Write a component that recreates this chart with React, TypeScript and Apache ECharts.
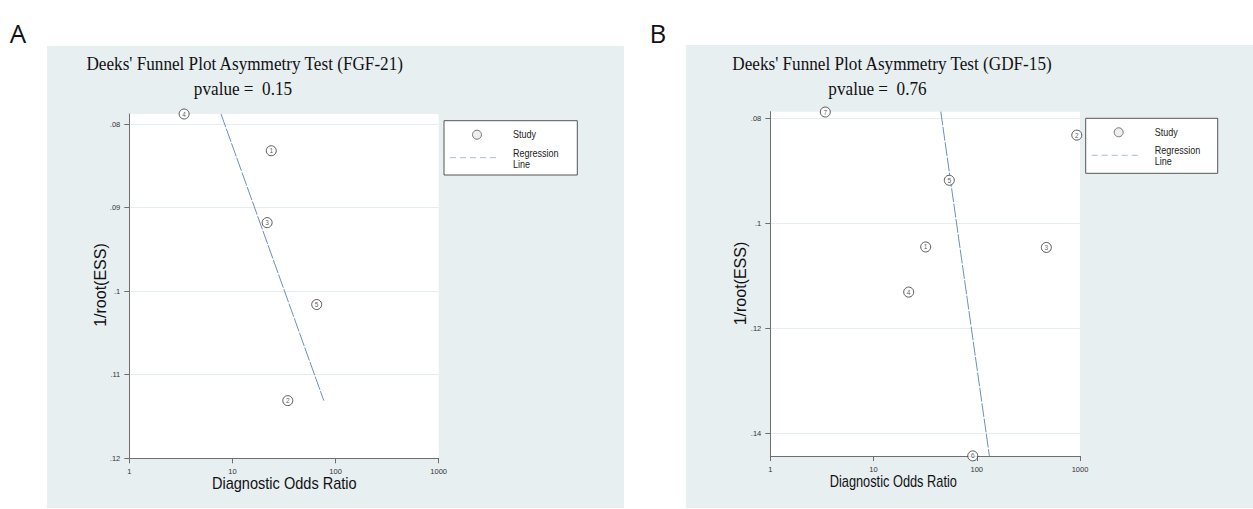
import React, { useEffect, useRef } from "react";
import * as echarts from "echarts";

// Panel A (FGF-21)
const studiesA = ["1", "2", "3", "4", "5"];
const dorA = [23.8, 34.4, 21.7, 3.4, 65.6];
const invEssA = [0.0832, 0.1131, 0.0918, 0.0788, 0.1016];
const regXA = [7.75, 76.9];
const regYA = [0.0788, 0.1131];
const yTicksA = [0.08, 0.09, 0.1, 0.11, 0.12];

// Panel B (GDF-15)
const studiesB = ["1", "2", "3", "4", "5", "6", "7"];
const dorB = [32.0, 931, 472, 21.9, 54.2, 91.4, 3.41];
const invEssB = [0.1045, 0.0832, 0.1046, 0.1131, 0.0918, 0.1443, 0.0788];
const regXB = [44.8, 132.5];
const regYB = [0.0787, 0.1443];
const yTicksB = [0.08, 0.1, 0.12, 0.14];

const titleA = "Deeks' Funnel Plot Asymmetry Test (FGF-21)";
const titleB = "Deeks' Funnel Plot Asymmetry Test (GDF-15)";
const pA = "pvalue =  0.15";
const pB = "pvalue =  0.76";

const BG = "#e8eff1";
const LINE = "#6f8fb8";

function yFmt(v: number) {
  return String(+v.toFixed(4)).replace(/^0/, "");
}

function makeXAxis(gridIndex: number) {
  return {
    type: "log",
    logBase: 10,
    gridIndex,
    min: 1,
    max: 1000,
    axisLine: { show: true, lineStyle: { color: "#6e6e6e", width: 1 } },
    axisTick: { show: true, length: 5, lineStyle: { color: "#6e6e6e" } },
    minorTick: { show: false },
    splitLine: { show: false },
    axisLabel: {
      fontSize: 7.5,
      color: "#333",
      margin: 9,
      fontFamily: "Liberation Sans",
      formatter: (v: number) => String(Math.round(v)),
    },
  };
}

function makeYAxis(gridIndex: number, min: number, max: number, ticks: number[]) {
  return {
    type: "value",
    gridIndex,
    inverse: true,
    min,
    max,
    axisLine: { show: true, onZero: false, lineStyle: { color: "#6e6e6e", width: 1 } },
    axisTick: { show: true, length: 5, customValues: ticks, lineStyle: { color: "#6e6e6e" } },
    axisLabel: {
      fontSize: 7.5,
      color: "#333",
      margin: 9,
      customValues: ticks,
      formatter: (v: number) => yFmt(v),
      fontFamily: "Liberation Sans",
    },
    splitLine: { show: true, lineStyle: { color: "#e4eef0", width: 1 } },
  };
}

function legend(x: number, y: number, w: number, h: number) {
  const ts = { fontSize: 11, fill: "#222", fontFamily: "Liberation Sans", textVerticalAlign: "middle" };
  return {
    type: "group",
    x,
    y,
    children: [
      { type: "rect", shape: { x: 0, y: 0, width: w, height: h }, style: { fill: "#fff", stroke: "#555", lineWidth: 1 } },
      { type: "circle", shape: { cx: 33, cy: 14, r: 4.5 }, style: { fill: "#eeeeee", stroke: "#555", lineWidth: 0.8 } },
      { type: "line", shape: { x1: 6, y1: 37, x2: 56, y2: 37 }, style: { stroke: "#a9bfd8", lineWidth: 1, lineDash: [6, 4] } },
      { type: "text", x: 69, y: 13.5, scaleX: 0.82, style: { ...ts, text: "Study" } },
      { type: "text", x: 69, y: 32, scaleX: 0.82, style: { ...ts, text: "Regression" } },
      { type: "text", x: 69, y: 43, scaleX: 0.82, style: { ...ts, text: "Line" } },
    ],
  };
}

function txt(x: number, y: number, text: string, fontSize: number, family: string, scaleX = 1, rotation = 0) {
  return {
    type: "text",
    x,
    y,
    scaleX,
    rotation,
    style: {
      text,
      fontSize,
      fontFamily: family,
      fill: "#111",
      textAlign: "center",
      textVerticalAlign: "middle",
    },
  };
}

export default function App() {
  const ref = useRef<HTMLDivElement>(null);
  useEffect(() => {
    if (!ref.current) return;
    const chart = echarts.init(ref.current, null, { renderer: "svg" });
    const scatterLabel = {
      show: true,
      position: "inside",
      fontSize: 6.5,
      color: "#333",
      fontFamily: "Liberation Sans",
      formatter: (p: any) => p.name,
    };
    const marker = { color: "#fff", borderColor: "#333", borderWidth: 1 };
    const option: any = {
      animation: false,
      backgroundColor: "#fff",
      grid: [
        { left: 129.3, top: 114, width: 309.4, height: 344.3, show: true, backgroundColor: "#fff", borderWidth: 0 },
        { left: 770.3, top: 111.7, width: 309.7, height: 344.3, show: true, backgroundColor: "#fff", borderWidth: 0 },
      ],
      xAxis: [makeXAxis(0), makeXAxis(1)],
      yAxis: [makeYAxis(0, 0.0788, 0.12, yTicksA), makeYAxis(1, 0.07874, 0.14432, yTicksB)],
      graphic: [
        { type: "rect", z: -100, shape: { x: 47, y: 46, width: 577, height: 462 }, style: { fill: BG } },
        { type: "rect", z: -100, shape: { x: 686, y: 45, width: 567, height: 463 }, style: { fill: BG } },
        txt(18, 33, "A", 26, "Open Sans"),
        txt(658, 33, "B", 26, "Open Sans"),
        txt(244.7, 64, titleA, 19.5, "Liberation Serif", 0.88),
        txt(243, 89, pA, 19.5, "Liberation Serif", 0.88),
        txt(892, 64, titleB, 19.5, "Liberation Serif", 0.88),
        txt(877.5, 89, pB, 19.5, "Liberation Serif", 0.88),
        txt(284.3, 483.3, "Diagnostic Odds Ratio", 16, "Liberation Sans", 0.91),
        txt(893.3, 481.5, "Diagnostic Odds Ratio", 16, "Liberation Sans", 0.8),
        txt(100, 285, "1/root(ESS)", 16, "Liberation Sans", 1, Math.PI / 2),
        txt(740, 283.5, "1/root(ESS)", 16, "Liberation Sans", 1, Math.PI / 2),
        legend(444, 120.7, 133.3, 54.3),
        legend(1085.7, 118.3, 132, 55),
      ],
      series: [
        {
          type: "line",
          xAxisIndex: 0,
          yAxisIndex: 0,
          data: regXA.map((x, i) => [x, regYA[i]]),
          symbol: "none",
          lineStyle: { color: LINE, width: 1, type: [14, 1.5] },
          z: 2,
        },
        {
          type: "scatter",
          xAxisIndex: 0,
          yAxisIndex: 0,
          clip: false,
          symbol: "circle",
          symbolSize: 10,
          itemStyle: marker,
          label: scatterLabel,
          data: studiesA.map((s, i) => ({ name: s, value: [dorA[i], invEssA[i]] })),
          z: 3,
        },
        {
          type: "line",
          xAxisIndex: 1,
          yAxisIndex: 1,
          data: regXB.map((x, i) => [x, regYB[i]]),
          symbol: "none",
          lineStyle: { color: LINE, width: 1, type: [14, 1.5] },
          z: 2,
        },
        {
          type: "scatter",
          xAxisIndex: 1,
          yAxisIndex: 1,
          clip: false,
          symbol: "circle",
          symbolSize: 10,
          itemStyle: marker,
          label: scatterLabel,
          data: studiesB.map((s, i) => ({ name: s, value: [dorB[i], invEssB[i]] })),
          z: 3,
        },
      ],
    };
    chart.setOption(option);
    return () => chart.dispose();
  }, []);
  return (
    <div
      ref={ref}
      style={{ position: "fixed", left: 0, top: 0, width: 1253, height: 509 }}
    />
  );
}
